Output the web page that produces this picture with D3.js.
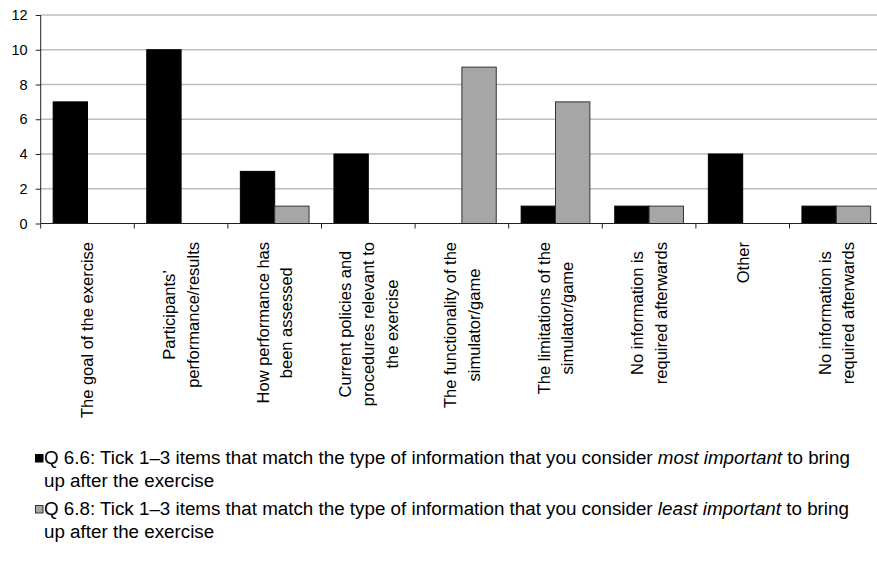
<!DOCTYPE html>
<html>
<head>
<meta charset="utf-8">
<script src="https://cdn.jsdelivr.net/npm/d3@7"></script>
<style>
  body { margin: 0; background: #fff; }
  svg { display: block; }
  text { font-family: "Liberation Sans", Arial, Helvetica, sans-serif; fill: #000; }
</style>
</head>
<body>
<svg id="chart" width="877" height="565"></svg>
<script>
// Category labels (each entry is the list of lines shown under the axis)
const categories = [
  ["The goal of the exercise"],
  ["Participants’", "performance/results"],
  ["How performance has", "been assessed"],
  ["Current policies and", "procedures relevant to", "the exercise"],
  ["The functionality of the", "simulator/game"],
  ["The limitations of the", "simulator/game"],
  ["No information is", "required afterwards"],
  ["Other"],
  ["No information is", "required afterwards"]
];

// Q 6.6 – most important
const mostImportant = [7, 10, 3, 4, 0, 1, 1, 4, 1];
// Q 6.8 – least important
const leastImportant = [0, 0, 1, 0, 9, 7, 1, 0, 1];

const yTicks = [0, 2, 4, 6, 8, 10, 12];

// Legend entries: each line is a list of [text, italic] segments
const legendEntries = [
  [
    [["Q 6.6: Tick 1–3 items that match the type of information that you consider ", false], ["most important", true], [" to bring", false]],
    [["up after the exercise", false]]
  ],
  [
    [["Q 6.8: Tick 1–3 items that match the type of information that you consider ", false], ["least important", true], [" to bring", false]],
    [["up after the exercise", false]]
  ]
];

const seriesFill = ["#000000", "#a6a6a6"];
const seriesStroke = ["#000000", "#333333"];

const svg = d3.select("#chart");

const plotLeft = 40.7, step = 93.6;
const yZero = 223.5, yTop = 15;

const x = d3.scaleBand()
  .domain(d3.range(categories.length))
  .range([plotLeft, plotLeft + step * categories.length])
  .paddingInner(0).paddingOuter(0);

const xSub = d3.scaleBand()
  .domain([0, 1])
  .range([0, x.bandwidth()])
  .paddingInner(0)
  .paddingOuter(0.3625);

const y = d3.scaleLinear().domain([0, 12]).range([yZero, yTop]);

// Horizontal gridlines
svg.append("g")
  .selectAll("line")
  .data(yTicks.filter(d => d > 0))
  .join("line")
  .attr("x1", plotLeft)
  .attr("x2", 877)
  .attr("y1", d => y(d))
  .attr("y2", d => y(d))
  .attr("stroke", "#bdbdbd")
  .attr("stroke-width", 1.3);

// Bars
const series = [mostImportant, leastImportant];
series.forEach((vals, s) => {
  svg.append("g")
    .selectAll("rect")
    .data(vals.map((v, i) => ({ v, i })).filter(d => d.v > 0))
    .join("rect")
    .attr("x", d => x(d.i) + xSub(s))
    .attr("width", xSub.bandwidth())
    .attr("y", d => y(d.v))
    .attr("height", d => y(0) - y(d.v))
    .attr("fill", seriesFill[s])
    .attr("stroke", seriesStroke[s])
    .attr("stroke-width", 1);
});

// Y axis
const yAxis = d3.axisLeft(y)
  .tickValues(yTicks)
  .tickSize(5)
  .tickPadding(8)
  .tickFormat(d3.format("d"));
const gy = svg.append("g")
  .attr("transform", `translate(${plotLeft},0)`)
  .call(yAxis);
gy.select(".domain").attr("stroke", "#222").attr("d", `M0,${yTop}V${yZero}`);
gy.selectAll(".tick line").attr("stroke", "#222");
gy.selectAll(".tick text")
  .attr("font-size", 14.5)
  .style("font-family", "'Liberation Sans', Arial, sans-serif");

// X axis line and category boundary ticks
svg.append("line")
  .attr("x1", plotLeft).attr("x2", 877)
  .attr("y1", yZero).attr("y2", yZero)
  .attr("stroke", "#222").attr("stroke-width", 1);

svg.append("g")
  .selectAll("line")
  .data(d3.range(categories.length + 1))
  .join("line")
  .attr("x1", i => plotLeft + i * x.step())
  .attr("x2", i => plotLeft + i * x.step())
  .attr("y1", yZero)
  .attr("y2", yZero + 5)
  .attr("stroke", "#222");

// Rotated category labels
const labelFont = 16.5, lineGap = 23.5, labelTop = 242;
const labelG = svg.append("g");
categories.forEach((lines, i) => {
  const cx = x(i) + x.bandwidth() / 2;
  const t = labelG.append("text")
    .attr("font-size", labelFont)
    .attr("text-anchor", "middle");
  const spans = lines.map((ln, k) =>
    t.append("tspan").text(ln)
  );
  const maxLen = d3.max(spans, sp => sp.node().getComputedTextLength());
  const n = lines.length;
  spans.forEach((sp, k) => {
    sp.attr("x", 0).attr("y", (k - (n - 1) / 2) * lineGap + labelFont * 0.36);
  });
  t.attr("transform", `translate(${cx},${labelTop + maxLen / 2}) rotate(-90)`);
});

// Legend
const legendX = 44, legendFont = 18.8;
const legendLineY = [[464, 487], [515, 538]];
legendEntries.forEach((entry, s) => {
  const baseY = legendLineY[s][0];
  svg.append("rect")
    .attr("x", 35.5).attr("y", baseY - 9.5)
    .attr("width", 7.5).attr("height", 7.5)
    .attr("fill", seriesFill[s])
    .attr("stroke", seriesStroke[s])
    .attr("stroke-width", 1);
  entry.forEach((line, li) => {
    const t = svg.append("text")
      .attr("x", legendX)
      .attr("y", legendLineY[s][li])
      .attr("font-size", legendFont);
    line.forEach(([txt, it]) => {
      t.append("tspan").text(txt).attr("font-style", it ? "italic" : "normal");
    });
  });
});
</script>
</body>
</html>
